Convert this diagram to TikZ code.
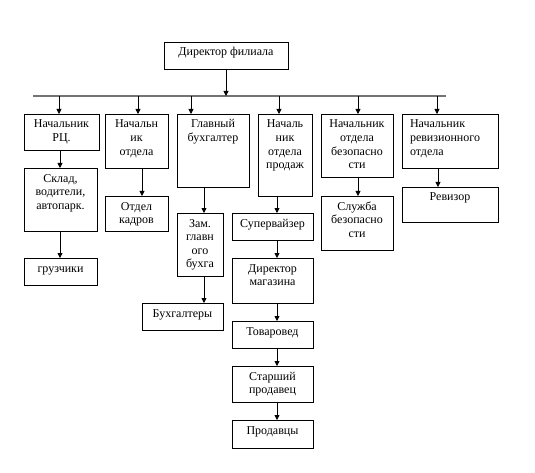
\documentclass[tikz,border=0pt]{standalone}
\usepackage{fontspec}
\setmainfont{Liberation Serif}
\usetikzlibrary{arrows.meta}
\tikzstyle{box}=[draw, line width=0.8pt, inner sep=0pt, outer sep=0pt, anchor=north west,
                 font=\fontsize{12}{13.6}\selectfont]
\tikzstyle{ar}=[-{Triangle[length=5pt, width=5pt]}, line width=0.8pt]
\tikzstyle{bus}=[line width=1.6pt, black!55]
\newcommand{\tbox}[3]{\parbox[c][#2pt][t]{#1pt}{\centering\rule{0pt}{14pt}#3}}
\newcommand{\tboxl}[3]{\parbox[c][#2pt][t]{#1pt}{\raggedright\leftskip=8pt\rule{0pt}{14pt}#3}}

\begin{document}
\begin{tikzpicture}[x=1pt, y=-1pt]
    \useasboundingbox (0,0) rectangle (535,473);
    % director and bus
    \node[box] (dir) at (164,42) {\tbox{124}{27}{Директор филиала}};
    \coordinate (busw) at (33,96);
    \coordinate (buse) at (446,96);
    \draw[bus] (busw) -- (buse);
    \draw[ar] (dir.south) -- (dir.south |- busw);
    \foreach \n/\x in {1/59,2/138,3/191,4/279,5/358,6/437}
        \coordinate (b\n) at (\x,96);
    \foreach \n/\x in {1/60,2/142,3/204,4/277,5/358,6/438}
        \coordinate (k\n) at (\x,0);
    % heads of departments
    \node[box] (n1) at (24,114)  {\tbox{75}{36}{Начальник\\РЦ.}};
    \node[box] (n2) at (105,114) {\tbox{63}{54}{Начальн\\ик\\отдела}};
    \node[box] (n3) at (177,114) {\tbox{72}{73}{Главный\\бухгалтер}};
    \node[box] (n4) at (258,114) {\tbox{54}{82}{Началь\\ник\\отдела\\продаж}};
    \node[box] (n5) at (321,114) {\tbox{72}{63}{Начальник\\отдела\\безопасно\\сти}};
    \node[box] (n6) at (402,114) {\tboxl{96}{54}{Начальник\\ревизионного\\отдела}};
    % subordinates
    \node[box] (sk)  at (24,168)  {\tbox{73}{63}{Склад,\\водители,\\автопарк.}};
    \node[box] (gr)  at (24,258)  {\tbox{73}{27}{грузчики}};
    \node[box] (ok)  at (105,196) {\tbox{63}{35}{Отдел\\кадров}};
    \node[box] (zam) at (177,213) {\tbox{46}{63}{Зам.\\главн\\ого\\бухга}};
    \node[box] (bh)  at (142,303) {\tbox{81}{27}{Бухгалтеры}};
    \node[box] (sv)  at (232,213) {\tbox{81}{27}{Супервайзер}};
    \node[box] (dm)  at (232,258) {\tbox{81}{45}{Директор\\магазина}};
    \node[box] (tv)  at (232,321) {\tbox{81}{27}{Товаровед}};
    \node[box] (sp)  at (232,366) {\tbox{81}{36}{Старший\\продавец}};
    \node[box] (pr)  at (232,420) {\tbox{81}{28}{Продавцы}};
    \node[box] (sl)  at (321,196) {\tbox{72}{54}{Служба\\безопасно\\сти}};
    \node[box] (rv)  at (402,187) {\tbox{96}{35}{Ревизор}};
    % arrows
    \foreach \n in {1,...,6}
        \draw[ar] (b\n) -- (b\n |- n\n.north);
    \draw[ar] (n1.south -| k1) -- (sk.north -| k1);
    \draw[ar] (sk.south -| k1) -- (gr.north -| k1);
    \draw[ar] (n2.south -| k2) -- (ok.north -| k2);
    \draw[ar] (n3.south -| k3) -- (zam.north -| k3);
    \draw[ar] (zam.south -| k3) -- (bh.north -| k3);
    \draw[ar] (n4.south -| k4) -- (sv.north -| k4);
    \foreach \a/\b in {sv/dm, dm/tv, tv/sp, sp/pr}
        \draw[ar] (\a.south -| k4) -- (\b.north -| k4);
    \draw[ar] (n5.south -| k5) -- (sl.north -| k5);
    \draw[ar] (n6.south -| k6) -- (rv.north -| k6);
\end{tikzpicture}
\end{document}
